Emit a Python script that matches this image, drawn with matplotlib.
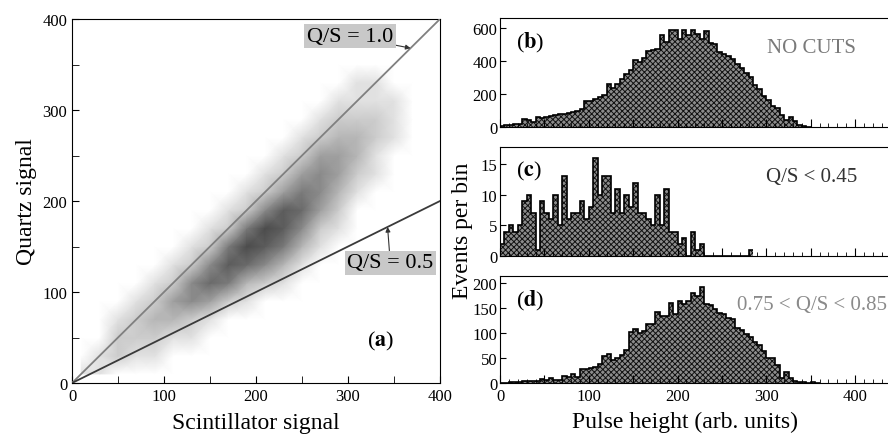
import numpy as np
import matplotlib
matplotlib.use("Agg")
import matplotlib.pyplot as plt
from matplotlib.colors import PowerNorm
from matplotlib.ticker import MultipleLocator, FuncFormatter

plt.rcParams.update({
    "font.family": ["Liberation Serif", "DejaVu Serif"],
    "mathtext.fontset": "stix",
    "hatch.linewidth": 0.7,
})

# ---- panel (a): density of the scatter cloud, 20-unit cells (rows = quartz, cols = scintillator)
cell = 20
density = [
    [1, 1, 0, 0, 0, 0, 0, 0, 0, 0, 0, 0, 0, 0, 0, 0, 0, 0, 0, 0],
    [0, 1, 2, 1, 1, 0, 0, 0, 0, 0, 0, 0, 0, 0, 0, 0, 0, 0, 0, 0],
    [0, 0, 2, 2, 2, 1, 1, 0, 0, 0, 0, 0, 0, 0, 0, 0, 0, 0, 0, 0],
    [0, 0, 1, 2, 3, 3, 2, 1, 0, 0, 0, 0, 0, 0, 0, 0, 0, 0, 0, 0],
    [0, 0, 0, 1, 2, 4, 5, 4, 2, 1, 0, 0, 0, 0, 0, 0, 0, 0, 0, 0],
    [0, 0, 0, 0, 1, 2, 5, 7, 6, 3, 2, 1, 0, 0, 0, 0, 0, 0, 0, 0],
    [0, 0, 0, 0, 0, 1, 2, 5, 8, 7, 5, 3, 1, 0, 0, 0, 0, 0, 0, 0],
    [0, 0, 0, 0, 0, 0, 1, 2, 6, 9, 8, 6, 3, 1, 0, 0, 0, 0, 0, 0],
    [0, 0, 0, 0, 0, 0, 0, 1, 2, 6, 9, 8, 5, 2, 1, 0, 0, 0, 0, 0],
    [0, 0, 0, 0, 0, 0, 0, 0, 1, 2, 5, 8, 7, 4, 2, 0, 0, 0, 0, 0],
    [0, 0, 0, 0, 0, 0, 0, 0, 0, 1, 2, 4, 6, 5, 3, 1, 0, 0, 0, 0],
    [0, 0, 0, 0, 0, 0, 0, 0, 0, 0, 1, 2, 4, 5, 4, 2, 1, 0, 0, 0],
    [0, 0, 0, 0, 0, 0, 0, 0, 0, 0, 0, 1, 2, 4, 4, 3, 1, 0, 0, 0],
    [0, 0, 0, 0, 0, 0, 0, 0, 0, 0, 0, 0, 1, 2, 3, 3, 2, 1, 0, 0],
    [0, 0, 0, 0, 0, 0, 0, 0, 0, 0, 0, 0, 0, 1, 2, 2, 2, 1, 0, 0],
    [0, 0, 0, 0, 0, 0, 0, 0, 0, 0, 0, 0, 0, 0, 1, 1, 1, 1, 0, 0],
    [0, 0, 0, 0, 0, 0, 0, 0, 0, 0, 0, 0, 0, 0, 0, 1, 1, 0, 0, 0],
    [0] * 20,
    [0] * 20,
    [0] * 20,
]
ratios = [1.0, 0.5]
ratio_labels = ["Q/S = 1.0", "Q/S = 0.5"]

# ---- panels (b)-(d): pulse height histograms, 5-unit bins starting at 0
bin_width = 5
no_cuts = [8, 12, 14, 18, 20, 48, 45, 30, 62, 55, 60, 65, 72, 80, 80, 82, 88, 100,
           110, 155, 160, 170, 180, 195, 260, 235, 260, 290, 320, 345, 405, 395,
           420, 460, 465, 470, 555, 515, 590, 585, 535, 585, 555, 590, 565, 535,
           580, 510, 500, 455, 445, 430, 410, 380, 355, 330, 300, 255, 230, 190,
           165, 128, 115, 75, 40, 62, 38, 15, 6, 2]
low_ratio = [2, 4, 5, 4, 5, 9, 10, 7, 1, 9, 7, 6, 10, 5, 13, 6, 7, 7, 9, 6, 8, 16,
             10, 13, 13, 7, 11, 7, 10, 8, 12, 7, 7, 6, 5, 10, 5, 11, 4, 4, 2, 3,
             0, 4, 1, 2, 0, 0, 0, 0, 0, 0, 0, 0, 0, 0, 1]
mid_ratio = [1, 1, 2, 2, 2, 4, 5, 5, 4, 8, 6, 10, 6, 6, 14, 12, 18, 12, 27, 28,
             29, 32, 37, 53, 58, 45, 50, 55, 65, 102, 107, 99, 104, 117, 117, 142,
             134, 134, 160, 137, 164, 158, 163, 179, 173, 191, 157, 155, 147, 140,
             137, 130, 127, 110, 105, 98, 92, 82, 75, 64, 49, 49, 36, 10, 21, 10,
             5, 3, 2, 1, 2, 1]

hist_sets = [
    (no_cuts, "(b)", "NO CUTS", "#7a7a7a", (0, 660), 200),
    (low_ratio, "(c)", "Q/S < 0.45", "#333333", (0, 17.8), 5),
    (mid_ratio, "(d)", "0.75 < Q/S < 0.85", "#8a8a8a", (0, 213), 50),
]

fig = plt.figure(figsize=(8.88, 4.35), dpi=100)

# ---------------- scatter panel
ax = fig.add_axes([0.0811, 0.1172, 0.4144, 0.8368])
dens = np.array(density, dtype=float)
centers = np.arange(dens.shape[0]) * cell + cell / 2
ax.pcolormesh(centers, centers, dens, shading="gouraud", cmap="Greys",
              norm=PowerNorm(0.6, vmin=0, vmax=14), zorder=1)
s = np.array([0, 400])
ax.plot(s, ratios[0] * s, color="#808080", lw=1.3, zorder=3)
ax.plot(s, ratios[1] * s, color="#3a3a3a", lw=1.3, zorder=3)
box = dict(boxstyle="square,pad=0.12", facecolor="#c8c8c8", edgecolor="none")
arrow = dict(arrowstyle="-|>", color="#333333", lw=0.8, mutation_scale=7,
             shrinkA=0, shrinkB=0)
ax.annotate(ratio_labels[0], xy=(368, ratios[0] * 368), xytext=(302, 381),
            fontsize=16, ha="center", va="center", bbox=box, arrowprops=arrow,
            zorder=4)
ax.annotate(ratio_labels[1], xy=(343, ratios[1] * 343), xytext=(346, 132),
            fontsize=16, ha="center", va="center", bbox=box, arrowprops=arrow,
            zorder=4)
ax.text(335, 47, r"($\mathbf{a}$)", fontsize=16, ha="center", va="center")
ax.set_xlim(0, 400)
ax.set_ylim(0, 400)
for a in (ax.xaxis, ax.yaxis):
    a.set_major_locator(MultipleLocator(100))
    a.set_minor_locator(MultipleLocator(50))
ax.tick_params(which="both", direction="in", labelsize=12, top=False, right=False)
ax.tick_params(which="major", length=5)
ax.tick_params(which="minor", length=5)
ax.set_xlabel("Scintillator signal", fontsize=17, labelpad=6)
ax.set_ylabel("Quartz signal", fontsize=17, labelpad=4)

# ---------------- histogram panels
bottoms = [0.7057, 0.4092, 0.1172]
heights = [0.2506, 0.2506, 0.246]
for k, (vals, tag, note, note_color, ylim, ystep) in enumerate(hist_sets):
    hx = fig.add_axes([0.5631, bottoms[k], 0.4498, heights[k]])
    v = np.array(vals, dtype=float)
    edges = np.arange(len(v) + 1) * bin_width
    hx.stairs(v, edges, fill=True, facecolor="#8c8c8c", edgecolor="#111111",
              hatch="xxxxxx", linewidth=0, zorder=1)
    hx.stairs(v, edges, color="black", lw=1.2, baseline=None, zorder=2)
    hx.set_xlim(0, 450)
    hx.set_ylim(*ylim)
    hx.xaxis.set_major_locator(MultipleLocator(50))
    hx.xaxis.set_minor_locator(MultipleLocator(10))
    hx.yaxis.set_major_locator(MultipleLocator(ystep))
    hx.tick_params(which="both", direction="in", labelsize=12, top=False,
                   right=False)
    hx.tick_params(which="major", length=6)
    hx.tick_params(which="minor", length=3)
    hx.tick_params(axis="y", length=4, pad=2)
    hx.spines["right"].set_visible(False)
    if k < 2:
        hx.tick_params(axis="x", labelbottom=False)
    else:
        hx.xaxis.set_major_formatter(
            FuncFormatter(lambda x, p: f"{int(x)}" if x % 100 == 0 else ""))
    hx.text(0.04, 0.78, "(" + r"$\mathbf{" + tag[1] + "}$" + ")",
            transform=hx.transAxes, fontsize=16, ha="left", va="center")
    hx.text(0.78, 0.73, note, transform=hx.transAxes, fontsize=15,
            color=note_color, ha="center", va="center")

fig.text(0.521, 0.47, "Events per bin", rotation=90, fontsize=17,
         ha="center", va="center")
fig.text(0.771, 0.03, "Pulse height (arb. units)", fontsize=17,
         ha="center", va="center")

fig.savefig("out.png", dpi=100)
